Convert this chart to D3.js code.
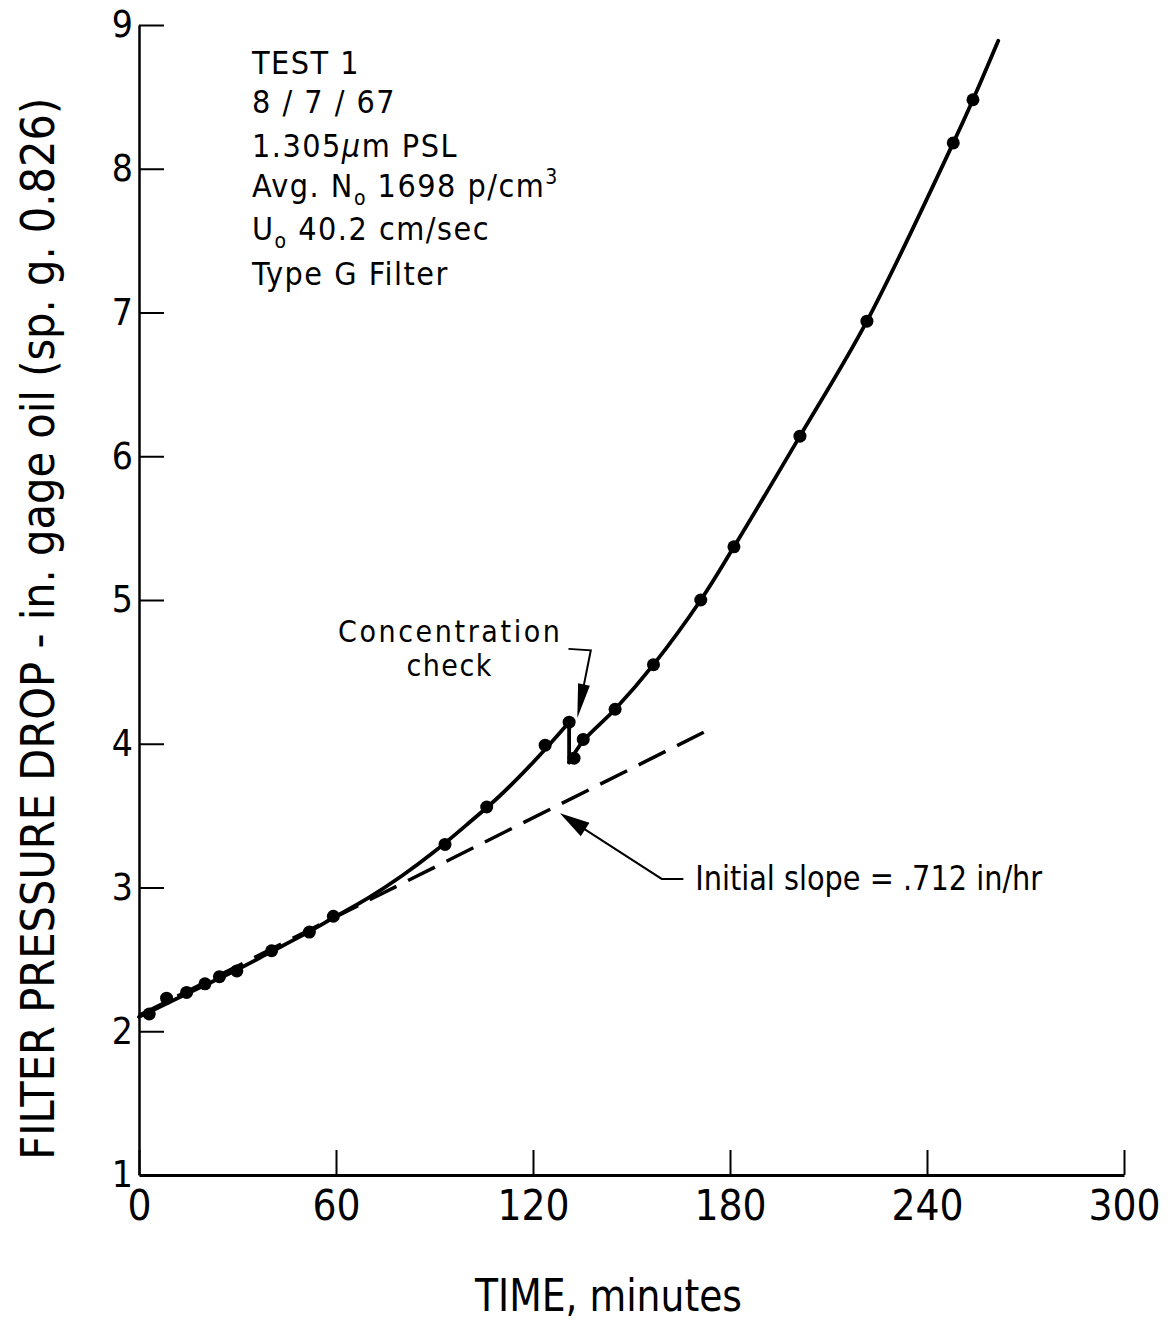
<!DOCTYPE html>
<html>
<head>
<meta charset="utf-8">
<script src="https://cdn.jsdelivr.net/npm/d3@7"></script>
<style>
  body { margin: 0; background: #fff; }
  text { font-family: "DejaVu Sans Condensed", "DejaVu Sans", sans-serif; font-stretch: condensed; fill: #000; }
</style>
</head>
<body>
<div id="chart"></div>
<script>
// measured points, TEST 1
const timeMin = [3.1, 8.4, 14.5, 20.1, 24.5, 29.8, 40.4, 51.9, 59.2, 93.2, 105.9, 123.7, 131, 132.5, 135.3, 145, 156.7, 171.1, 181.2, 201.3, 221.7, 248, 254];
const dropIn  = [2.12, 2.23, 2.27, 2.33, 2.38, 2.42, 2.56, 2.69, 2.80, 3.30, 3.56, 3.99, 4.15, 3.90, 4.03, 4.24, 4.55, 5.00, 5.37, 6.14, 6.94, 8.18, 8.48];

// hand-drawn fit curve, before and after the concentration check
const fitPreT  = [0, 10, 20, 30, 40, 50, 60, 70, 80, 90, 100, 110, 120, 131];
const fitPreP  = [2.10, 2.21, 2.32, 2.43, 2.55, 2.67, 2.80, 2.93, 3.08, 3.25, 3.44, 3.64, 3.87, 4.15];
const checkT   = [131, 131];
const checkP   = [4.15, 3.87];
const fitPostT = [131, 135.3, 145, 156.7, 171.1, 181.2, 201.3, 221.7, 248, 254, 261.7];
const fitPostP = [3.87, 4.02, 4.24, 4.55, 5.00, 5.37, 6.14, 6.94, 8.18, 8.48, 8.89];

// initial slope line (dashed)
const slopeT = [0, 172];
const slopeP = [2.11, 4.08];

const xTicks = [0, 60, 120, 180, 240, 300];
const yTicks = [1, 2, 3, 4, 5, 6, 7, 8, 9];

const xTitle = "TIME, minutes";
const yTitle = "FILTER PRESSURE DROP - in. gage oil (sp. g. 0.826)";

const infoLines = [
    [{t: "TEST 1"}],
    [{t: "8 / 7 / 67"}],
    [{t: "1.305"}, {t: "\u03bc", mu: true}, {t: "m  PSL"}],
    [{t: "Avg. N"}, {t: "o", sub: true}, {t: " 1698  p/cm"}, {t: "3", sup: true}],
    [{t: "U"}, {t: "o", sub: true}, {t: " 40.2  cm/sec"}],
    [{t: "Type  G  Filter"}]
];

const width = 1171, height = 1325;

const x = d3.scaleLinear().domain([0, 300]).range([139, 1124]);
const y = d3.scaleLinear().domain([1, 9]).range([1175, 25]);

const svg = d3.select("#chart").append("svg")
    .attr("width", width)
    .attr("height", height)
    .attr("viewBox", [0, 0, width, height]);

// axes
const gx = svg.append("g")
    .attr("transform", `translate(0, ${y(1)})`)
    .call(d3.axisBottom(x).tickValues(xTicks).tickSize(-25).tickSizeOuter(0).tickPadding(15).tickFormat(d3.format("d")));
gx.select(".domain").attr("stroke-width", 3);
gx.selectAll(".tick line").attr("stroke-width", 2);
gx.selectAll(".tick text").attr("font-size", 42).attr("font-family", null);

const gy = svg.append("g")
    .attr("transform", `translate(${x(0)}, 0)`)
    .call(d3.axisLeft(y).tickValues(yTicks).tickSize(-25).tickSizeOuter(0).tickPadding(6).tickFormat(d3.format("d")));
gy.select(".domain").attr("stroke-width", 2.5);
gy.selectAll(".tick line").attr("stroke-width", 2).attr("display", d => d === 1 ? "none" : null);
gy.selectAll(".tick text").attr("font-size", 37).attr("font-family", null);

// axis titles
svg.append("text")
    .attr("x", x(143))
    .attr("y", 1311)
    .attr("text-anchor", "middle")
    .attr("font-size", 44)
    .attr("textLength", 267)
    .attr("lengthAdjust", "spacingAndGlyphs")
    .text(xTitle);

svg.append("text")
    .attr("transform", `translate(54, ${y(4.8)}) rotate(-90)`)
    .attr("text-anchor", "middle")
    .attr("font-size", 46)
    .attr("textLength", 1062)
    .attr("lengthAdjust", "spacingAndGlyphs")
    .text(yTitle);

const line = (T, P, curve) => d3.line()
    .x(d => x(d[0]))
    .y(d => y(d[1]))
    .curve(curve)(d3.zip(T, P));

// dashed initial slope
svg.append("path")
    .attr("d", line(slopeT, slopeP, d3.curveLinear))
    .attr("fill", "none")
    .attr("stroke", "#000")
    .attr("stroke-width", 3.5)
    .attr("stroke-dasharray", "30,13");

// fit curve
[[fitPreT, fitPreP, d3.curveCatmullRom], [checkT, checkP, d3.curveLinear], [fitPostT, fitPostP, d3.curveCatmullRom]]
    .forEach(([T, P, c]) => {
        svg.append("path")
            .attr("d", line(T, P, c))
            .attr("fill", "none")
            .attr("stroke", "#000")
            .attr("stroke-width", 3.8)
            .attr("stroke-linejoin", "round")
            .attr("stroke-linecap", "round");
    });

// data points
svg.append("g")
    .selectAll("circle")
    .data(d3.zip(timeMin, dropIn))
    .join("circle")
    .attr("cx", d => x(d[0]))
    .attr("cy", d => y(d[1]))
    .attr("r", 6.5)
    .attr("fill", "#000");

// arrowhead from a pixel tip, pointing away from pixel 'from'
function arrowHead(tip, from, len, half) {
    const dx = tip[0] - from[0], dy = tip[1] - from[1];
    const L = Math.hypot(dx, dy), ux = dx / L, uy = dy / L;
    const bx = tip[0] - ux * len, by = tip[1] - uy * len;
    return `M${tip[0]},${tip[1]}L${bx - uy * half},${by + ux * half}L${bx + uy * half},${by - ux * half}Z`;
}

// concentration check note
const chk = [[130.8, 4.66], [137.6, 4.65], [133.5, 4.18]].map(d => [x(d[0]), y(d[1])]);
svg.append("path")
    .attr("d", d3.line()(chk.slice(0, 2).concat([[chk[2][0] + (chk[1][0] - chk[2][0]) * 0.4, chk[2][1] + (chk[1][1] - chk[2][1]) * 0.4]])))
    .attr("fill", "none").attr("stroke", "#000").attr("stroke-width", 2);
svg.append("path")
    .attr("d", arrowHead(chk[2], chk[1], 34, 6))
    .attr("fill", "#000");

svg.append("text")
    .attr("x", x(94.4)).attr("y", y(4.709))
    .attr("text-anchor", "middle")
    .attr("font-size", 30)
    .attr("textLength", 222)
    .attr("lengthAdjust", "spacing")
    .text("Concentration");
svg.append("text")
    .attr("x", x(94.4)).attr("y", y(4.473))
    .attr("text-anchor", "middle")
    .attr("font-size", 30)
    .attr("textLength", 85)
    .attr("lengthAdjust", "spacing")
    .text("check");

// initial slope note
const sl = [[165.8, 3.06], [159.2, 3.06], [128.2, 3.517]].map(d => [x(d[0]), y(d[1])]);
svg.append("path")
    .attr("d", d3.line()(sl.slice(0, 2).concat([[sl[2][0] + (sl[1][0] - sl[2][0]) * 0.15, sl[2][1] + (sl[1][1] - sl[2][1]) * 0.15]])))
    .attr("fill", "none").attr("stroke", "#000").attr("stroke-width", 2);
svg.append("path")
    .attr("d", arrowHead(sl[2], sl[1], 30, 8))
    .attr("fill", "#000");

svg.append("text")
    .attr("x", x(169.4)).attr("y", y(2.98))
    .attr("font-size", 33)
    .attr("textLength", 347)
    .attr("lengthAdjust", "spacingAndGlyphs")
    .text("Initial slope = .712  in/hr");

// test info block
const infoBase = [8.662, 8.39, 8.084, 7.806, 7.507, 7.194];
infoLines.forEach((parts, i) => {
    const t = svg.append("text")
        .attr("x", x(34.4))
        .attr("y", y(infoBase[i]))
        .attr("font-size", 32)
        .attr("letter-spacing", 1.5);
    parts.forEach((p, j) => {
        const s = t.append("tspan").text(p.t);
        const prev = parts[j - 1];
        if (p.sub) s.attr("font-size", 21).attr("dy", 8);
        else if (p.sup) s.attr("font-size", 21).attr("dy", -13);
        else if (prev && prev.sub) s.attr("dy", -8);
        else if (prev && prev.sup) s.attr("dy", 13);
        if (p.mu) s.attr("font-style", "italic");
    });
});
</script>
</body>
</html>
